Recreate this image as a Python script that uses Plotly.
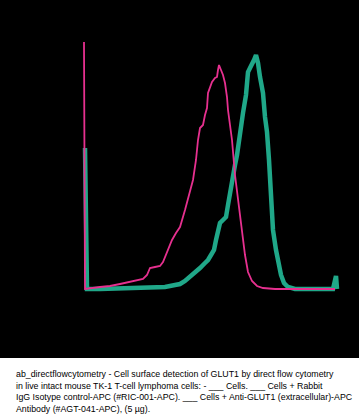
import plotly.graph_objects as go

# Fluorescence channel (a.u.) and event counts
iso_channel = [0, 4, 64, 104, 144, 184, 216, 236, 252, 264, 284, 304, 316, 332, 352, 368, 384, 404, 424, 436,
               448, 456, 464, 476, 484, 492, 496, 512, 524, 532, 536, 540, 548, 556, 564, 572, 576, 584, 592, 604,
               616, 632, 644, 656, 672, 692, 716, 764, 864, 1004]
iso_counts = [248, 1, 3, 4, 6, 8, 10, 11, 15, 22, 23, 24, 28, 38, 50, 57, 63, 80, 98, 110,
              130, 150, 162, 165, 175, 182, 197, 208, 212, 213, 220, 225, 220, 215, 207, 193, 180, 162, 150, 115,
              90, 60, 35, 18, 9, 4, 2, 1, 1, 1]

glut_channel = [4, 8, 12, 64, 184, 264, 324, 364, 384, 404, 424, 444, 464, 484, 496, 508, 520, 528, 536, 544,
                556, 568, 576, 584, 592, 604, 612, 624, 636, 648, 656, 664, 672, 680, 688, 696, 704, 716, 724, 732,
                740, 748, 756, 768, 776, 788, 800, 816, 844, 944, 996, 1008, 1012]
glut_counts = [142, 20, 1, 1, 2, 2, 3, 5, 6, 9, 13, 18, 22, 27, 30, 35, 40, 50, 60, 67,
               70, 73, 85, 98, 110, 125, 135, 160, 177, 195, 218, 222, 225, 230, 235, 227, 213, 197, 173, 158,
               130, 95, 60, 40, 28, 15, 7, 3, 1, 1, 1, 14, 1]

PINK = "#E6308F"
TEAL = "#20A889"

caption_lines = [
    "ab_directflowcytometry - Cell surface detection of GLUT1 by direct flow cytometry",
    "in live intact mouse TK-1 T-cell lymphoma cells: - ___ Cells. ___ Cells + Rabbit",
    "IgG Isotype control-APC (#RIC-001-APC). ___ Cells + Anti-GLUT1 (extracellular)-APC",
    "Antibody (#AGT-041-APC), (5 µg).",
]

W, H = 359, 419
fig = go.Figure()
fig.add_trace(go.Scatter(x=glut_channel, y=glut_counts, mode="lines",
                         line=dict(color=TEAL, width=4.5), hoverinfo="skip"))
fig.add_trace(go.Scatter(x=iso_channel, y=iso_counts, mode="lines",
                         line=dict(color=PINK, width=1.8), hoverinfo="skip"))

# axis scaling: 4 channel units per pixel, channel 0 at px 84; count 0 at px 290
sx = 4.0
fig.update_xaxes(range=[(0 - 84) * sx, (W - 84) * sx], visible=False, fixedrange=True)
fig.update_yaxes(range=[290 - H, 290], visible=False, fixedrange=True)

fig.add_shape(type="rect", xref="paper", yref="paper", x0=0, x1=1,
              y0=(H - 358) / H, y1=1, fillcolor="black", line=dict(width=0), layer="below")

centers = [374, 385.5, 397, 408.5]
for txt, cy in zip(caption_lines, centers):
    fig.add_annotation(text=txt, xref="paper", yref="paper", x=14 / W, y=1 - cy / H,
                       xanchor="left", yanchor="middle", showarrow=False,
                       font=dict(family="Liberation Sans", size=8.8, color="black"))

fig.update_layout(width=W, height=H, margin=dict(l=0, r=0, t=0, b=0),
                  paper_bgcolor="white", plot_bgcolor="white", showlegend=False)
fig.write_html("out.html")
